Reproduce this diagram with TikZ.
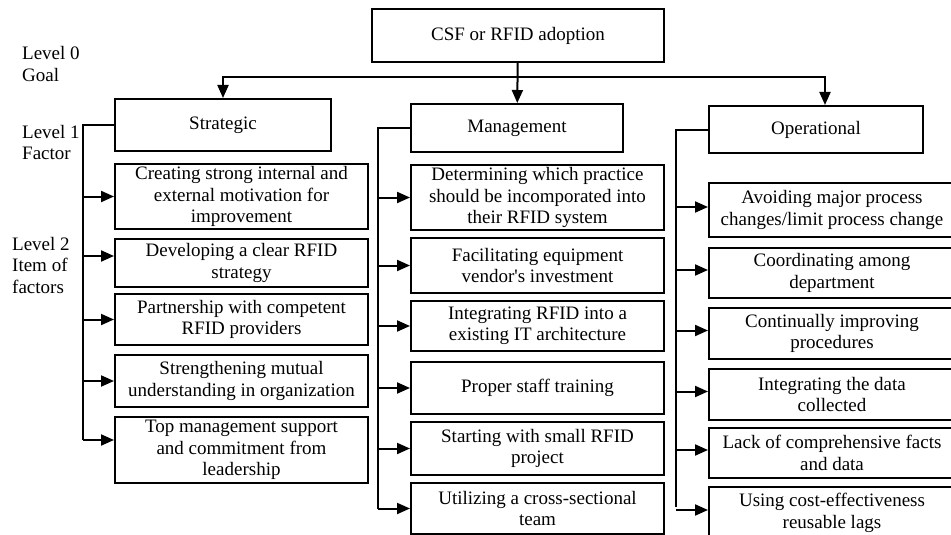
\documentclass[tikz,border=0pt]{standalone}
\usepackage{fontspec}
\setmainfont{Liberation Serif}
\usetikzlibrary{arrows.meta}

\begin{document}
\begin{tikzpicture}[x=1pt, y=-1pt,
	every node/.style={font=\fontsize{19}{21.5}\selectfont},
	box/.style={draw, line width=2pt, align=center, inner sep=0pt},
	item/.style={box, minimum width=253pt},
	oitem/.style={box, minimum width=246pt},
	label/.style={align=left, anchor=west, inner sep=0pt},
	arr/.style={line width=2pt, -{Triangle[length=13pt,width=11pt]}},
	spine/.style={line width=2pt}]
	\useasboundingbox (0,0) rectangle (951,535);
	\clip (0,0) rectangle (951,535);
	\node[label] (lvl0) at (22, 64) {Level 0\\Goal};
	\node[label] (lvl1) at (22, 142.5) {Level 1\\Factor};
	\node[label] (lvl2) at (12, 265) {Level 2\\Item of\\factors};
	\node[box, minimum width=292pt, minimum height=53pt] (goal) at (518, 35.5) {CSF or RFID adoption};
	\node[box, minimum width=216pt, minimum height=52pt] (strat) at (223, 125) {Strategic};
	\node[box, minimum width=212pt, minimum height=48pt] (mgmt) at (517, 128) {Management};
	\node[box, minimum width=214pt, minimum height=47pt] (oper) at (816, 129.5) {Operational};
	\coordinate (bus) at (518, 77);
	\draw[arr] (goal) -- (mgmt);
	\draw[arr] (bus) -| (strat.north);
	\draw[arr] (bus) -| ([xshift=9pt]oper.north);
	\node[item, minimum height=65pt] (s1) at (241.5, 196.5) {Creating strong internal and\\external motivation for\\improvement};
	\node[item, minimum height=48pt] (s2) at (241.5, 263) {Developing a clear RFID\\strategy};
	\node[item, minimum height=51pt] (s3) at (241.5, 319.5) {Partnership with competent\\RFID providers};
	\node[item, minimum height=52pt] (s4) at (241.5, 381) {Strengthening mutual\\understanding in organization};
	\node[item, minimum height=66pt] (s5) at (241.5, 450) {Top management support\\and commitment from\\leadership};
	\node[item, minimum height=65pt] (m1) at (537.5, 197.5) {Determining which practice\\should be incomporated into\\their RFID system};
	\node[item, minimum height=55pt] (m2) at (537.5, 265.5) {Facilitating equipment\\vendor\textquotesingle s investment};
	\node[item, minimum height=50pt] (m3) at (537.5, 326) {Integrating RFID into a\\existing IT architecture};
	\node[item, minimum height=52pt] (m4) at (537.5, 388) {Proper staff training};
	\node[item, minimum height=53pt] (m5) at (537.5, 448.5) {Starting with small RFID\\project};
	\node[item, minimum height=51pt] (m6) at (537.5, 508.5) {Utilizing a cross-sectional\\team};
	\node[oitem, minimum height=54pt] (o1) at (832, 210) {Avoiding major process\\changes/limit process change};
	\node[oitem, minimum height=50pt] (o2) at (832, 273) {Coordinating among\\department};
	\node[oitem, minimum height=51pt] (o3) at (832, 333.5) {Continually improving\\procedures};
	\node[oitem, minimum height=51pt] (o4) at (832, 394.5) {Integrating the data\\collected};
	\node[oitem, minimum height=50pt] (o5) at (832, 453) {Lack of comprehensive facts\\and data};
	\node[oitem, minimum height=52pt] (o6) at (832, 513) {Using cost-effectiveness\\reusable lags};
	\coordinate (sbot) at (83, 440);
	\coordinate (mbot) at (378, 508.5);
	\coordinate (obot) at (676, 507);
	\draw[spine] (strat.west) -| (sbot);
	\draw[spine] (mgmt.west) -| (mbot);
	\draw[spine] (oper.west) -| (obot);
	\draw[arr] (sbot |- s1.west) -- (s1.west);
	\draw[arr] (sbot |- s2.west) ++(0,-7) -- ([yshift=7pt]s2.west);
	\draw[arr] (sbot |- s3.west) -- (s3.west);
	\draw[arr] (sbot |- s4.west) -- (s4.west);
	\draw[arr] (sbot) -- ([yshift=10pt]s5.west);
	\foreach \i in {1,...,6} {
		\draw[arr] (mbot |- m\i.west) -- (m\i.west);
		\draw[arr] (obot |- o\i.west) ++(0,-3) -- ([yshift=3pt]o\i.west);
	}
\end{tikzpicture}
\end{document}
